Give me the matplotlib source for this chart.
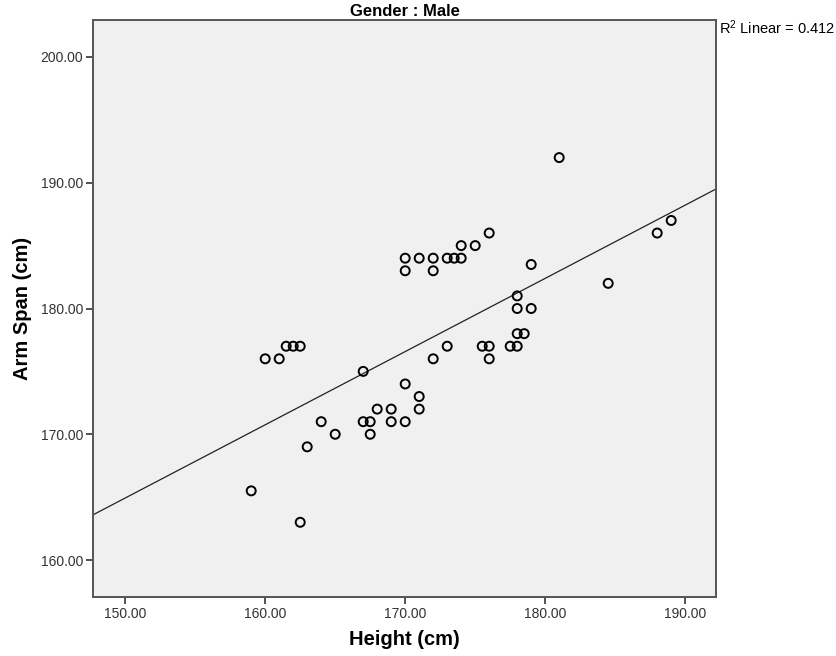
import matplotlib
matplotlib.use("Agg")
import matplotlib.pyplot as plt
import numpy as np

plt.rcParams['font.family'] = ['Liberation Sans', 'DejaVu Sans']
plt.rcParams['mathtext.default'] = 'regular'

# Height (cm) vs Arm Span (cm), males
height = [159, 160, 161, 161.5, 162, 162.5, 162.5, 163, 164, 165,
          167, 167, 167.5, 167.5, 168, 169, 169, 170, 170, 171,
          171, 170, 170, 171, 172, 172, 173, 173.5, 174, 174,
          175, 176, 181, 172, 173, 175.5, 176, 176, 177.5, 178,
          178, 178.5, 178, 179, 178, 179, 184.5, 188, 189]
arm_span = [165.5, 176, 176, 177, 177, 177, 163, 169, 171, 170,
            175, 171, 171, 170, 172, 172, 171, 171, 174, 173,
            172, 184, 183, 184, 184, 183, 184, 184, 184, 185,
            185, 186, 192, 176, 177, 177, 177, 176, 177, 177,
            178, 178, 180, 180, 181, 183.5, 182, 186, 187]

x_ticks = [150, 160, 170, 180, 190]
y_ticks = [160, 170, 180, 190, 200]
r2_label = r"R$^{2}$ Linear = 0.412"

fig = plt.figure(figsize=(8.36, 6.56), dpi=100)
ax = fig.add_axes([93/836, 1 - 597/656, (716 - 93)/836, (597 - 20)/656])
ax.set_facecolor('#f0f0f0')

ax.scatter(height, arm_span, s=42, facecolors='none', edgecolors='black',
           linewidths=1.4, zorder=3)

xlim = (147.7, 192.2)
ylim = (157.06, 202.94)
slope, intercept = np.polyfit(height, arm_span, 1)
xs = np.array(xlim)
ax.plot(xs, slope * xs + intercept, color='#222222', linewidth=0.9, zorder=2)

ax.set_xlim(*xlim)
ax.set_ylim(*ylim)
ax.set_xticks(x_ticks)
ax.set_yticks(y_ticks)
ax.set_xticklabels(['%.2f' % v for v in x_ticks])
ax.set_yticklabels(['%.2f' % v for v in y_ticks])
ax.tick_params(direction='out', length=5, width=1.2, color='#333333',
               labelsize=10, labelcolor='#333333', pad=2)
ax.tick_params(top=False, right=False)

for s in ax.spines.values():
    s.set_color('#555555')
    s.set_linewidth(1.4)

ax.set_xlabel('Height (cm)', fontsize=14.5, fontweight='bold', labelpad=7)
ax.set_ylabel('Arm Span (cm)', fontsize=14.5, fontweight='bold', labelpad=6)
ax.set_title('Gender : Male', fontsize=12, fontweight='bold', pad=3)

fig.text(719/836, 1 - 28/656, r2_label, fontsize=10.5, va='center', ha='left')

fig.savefig('out.png', dpi=100)
